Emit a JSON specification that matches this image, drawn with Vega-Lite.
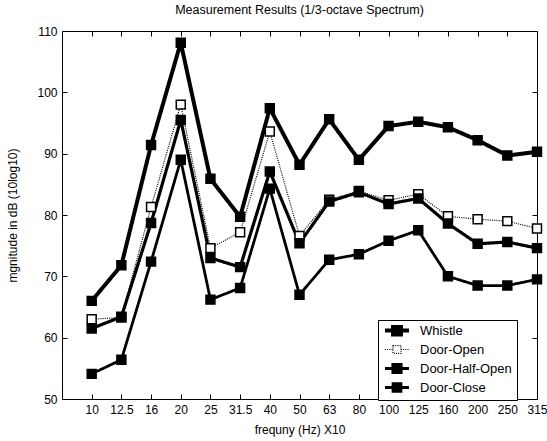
{
  "$schema": "https://vega.github.io/schema/vega-lite/v6.json",
  "width": 475,
  "height": 368,
  "autosize": {"type": "none"},
  "padding": {"left": 62, "top": 31, "right": 10, "bottom": 42},
  "background": "white",
  "config": {
    "font": "Liberation Sans",
    "view": {"stroke": "black", "strokeWidth": 1},
    "axis": {
      "grid": false,
      "domainColor": "black",
      "tickColor": "black",
      "labelColor": "black",
      "titleColor": "black",
      "labelFont": "Liberation Sans",
      "titleFont": "Liberation Sans",
      "labelFontSize": 12,
      "titleFontSize": 12,
      "titleFontWeight": "normal",
      "tickSize": -5,
      "labelPadding": 10
    },
    "legend": {
      "labelFont": "Liberation Sans",
      "labelFontSize": 13,
      "labelColor": "black"
    }
  },
  "title": {
    "text": "Measurement Results (1/3-octave Spectrum)",
    "fontSize": 12.5,
    "fontWeight": "normal",
    "font": "Liberation Sans",
    "color": "black",
    "offset": 9,
    "anchor": "middle"
  },
  "data": {
    "values": [
      {"freq": "10", "series": "Whistle", "db": 66.0},
      {"freq": "12.5", "series": "Whistle", "db": 71.8},
      {"freq": "16", "series": "Whistle", "db": 91.4},
      {"freq": "20", "series": "Whistle", "db": 108.1},
      {"freq": "25", "series": "Whistle", "db": 85.9},
      {"freq": "31.5", "series": "Whistle", "db": 79.7},
      {"freq": "40", "series": "Whistle", "db": 97.4},
      {"freq": "50", "series": "Whistle", "db": 88.2},
      {"freq": "63", "series": "Whistle", "db": 95.6},
      {"freq": "80", "series": "Whistle", "db": 89.0},
      {"freq": "100", "series": "Whistle", "db": 94.5},
      {"freq": "125", "series": "Whistle", "db": 95.2},
      {"freq": "160", "series": "Whistle", "db": 94.3},
      {"freq": "200", "series": "Whistle", "db": 92.2},
      {"freq": "250", "series": "Whistle", "db": 89.7},
      {"freq": "315", "series": "Whistle", "db": 90.3},
      {"freq": "10", "series": "Door-Open", "db": 63.0},
      {"freq": "12.5", "series": "Door-Open", "db": 63.3},
      {"freq": "16", "series": "Door-Open", "db": 81.3},
      {"freq": "20", "series": "Door-Open", "db": 98.0},
      {"freq": "25", "series": "Door-Open", "db": 74.6},
      {"freq": "31.5", "series": "Door-Open", "db": 77.2},
      {"freq": "40", "series": "Door-Open", "db": 93.6},
      {"freq": "50", "series": "Door-Open", "db": 76.6},
      {"freq": "63", "series": "Door-Open", "db": 82.5},
      {"freq": "80", "series": "Door-Open", "db": 83.9},
      {"freq": "100", "series": "Door-Open", "db": 82.4},
      {"freq": "125", "series": "Door-Open", "db": 83.4},
      {"freq": "160", "series": "Door-Open", "db": 79.8},
      {"freq": "200", "series": "Door-Open", "db": 79.3},
      {"freq": "250", "series": "Door-Open", "db": 79.0},
      {"freq": "315", "series": "Door-Open", "db": 77.8},
      {"freq": "10", "series": "Door-Half-Open", "db": 61.5},
      {"freq": "12.5", "series": "Door-Half-Open", "db": 63.4},
      {"freq": "16", "series": "Door-Half-Open", "db": 78.7},
      {"freq": "20", "series": "Door-Half-Open", "db": 95.5},
      {"freq": "25", "series": "Door-Half-Open", "db": 73.0},
      {"freq": "31.5", "series": "Door-Half-Open", "db": 71.5},
      {"freq": "40", "series": "Door-Half-Open", "db": 87.1},
      {"freq": "50", "series": "Door-Half-Open", "db": 75.4},
      {"freq": "63", "series": "Door-Half-Open", "db": 82.2},
      {"freq": "80", "series": "Door-Half-Open", "db": 83.7},
      {"freq": "100", "series": "Door-Half-Open", "db": 81.8},
      {"freq": "125", "series": "Door-Half-Open", "db": 82.7},
      {"freq": "160", "series": "Door-Half-Open", "db": 78.6},
      {"freq": "200", "series": "Door-Half-Open", "db": 75.3},
      {"freq": "250", "series": "Door-Half-Open", "db": 75.6},
      {"freq": "315", "series": "Door-Half-Open", "db": 74.6},
      {"freq": "10", "series": "Door-Close", "db": 54.1},
      {"freq": "12.5", "series": "Door-Close", "db": 56.4},
      {"freq": "16", "series": "Door-Close", "db": 72.4},
      {"freq": "20", "series": "Door-Close", "db": 89.0},
      {"freq": "25", "series": "Door-Close", "db": 66.2},
      {"freq": "31.5", "series": "Door-Close", "db": 68.1},
      {"freq": "40", "series": "Door-Close", "db": 84.3},
      {"freq": "50", "series": "Door-Close", "db": 67.0},
      {"freq": "63", "series": "Door-Close", "db": 72.7},
      {"freq": "80", "series": "Door-Close", "db": 73.6},
      {"freq": "100", "series": "Door-Close", "db": 75.8},
      {"freq": "125", "series": "Door-Close", "db": 77.5},
      {"freq": "160", "series": "Door-Close", "db": 70.0},
      {"freq": "200", "series": "Door-Close", "db": 68.5},
      {"freq": "250", "series": "Door-Close", "db": 68.5},
      {"freq": "315", "series": "Door-Close", "db": 69.5}
    ]
  },
  "resolve": {"axis": {"x": "independent", "y": "independent"}},
  "layer": [
    {
      "mark": {"type": "line", "strokeJoin": "miter"},
      "encoding": {
        "x": {
          "field": "freq", "type": "ordinal",
          "sort": ["10","12.5","16","20","25","31.5","40","50","63","80","100","125","160","200","250","315"],
          "scale": {"type": "point", "padding": 0.5, "align": 1},
          "axis": {"orient": "bottom", "title": "frequny (Hz) X10", "labelAngle": 0, "titlePadding": 9, "domain": false}
        },
        "y": {
          "field": "db", "type": "quantitative",
          "scale": {"domain": [50, 110], "nice": false, "zero": false},
          "axis": {"orient": "left", "title": "mgnitude in dB (10log10)", "values": [50,60,70,80,90,100,110], "titlePadding": 17, "labelPadding": 10, "domain": false}
        },
        "color": {"value": "black"},
        "strokeDash": {
          "field": "series", "type": "nominal",
          "scale": {"domain": ["Whistle","Door-Open","Door-Half-Open","Door-Close"], "range": [[1,0],[1,1.2],[1,0],[1,0]]},
          "legend": {
            "title": null, "orient": "none", "legendX": 316, "legendY": 289,
            "symbolType": "M-1,0H-0.33M0.33,0H1M-0.33,-0.33H0.33V0.33H-0.33Z",
            "symbolSize": 576, "symbolStrokeColor": "black", "symbolStrokeWidth": 2,
            "clipHeight": 11, "labelOffset": 9,
            "strokeColor": "black", "fillColor": "white", "padding": 5, "rowPadding": 5
          }
        },
        "strokeWidth": {
          "field": "series", "type": "nominal",
          "scale": {"type": "ordinal", "domain": ["Whistle","Door-Open","Door-Half-Open","Door-Close"], "range": [4, 1.2, 3.2, 2.8]},
          "legend": null
        },
        "detail": {"field": "series"}
      }
    },
    {
      "mark": {"type": "point", "shape": "square", "filled": true, "size": 80, "stroke": "black", "strokeWidth": 1.5, "opacity": 1},
      "encoding": {
        "x": {
          "field": "freq", "type": "ordinal",
          "sort": ["10","12.5","16","20","25","31.5","40","50","63","80","100","125","160","200","250","315"],
          "axis": {"orient": "top", "title": null, "labels": false, "domain": false}
        },
        "y": {
          "field": "db", "type": "quantitative",
          "axis": {"orient": "right", "title": null, "labels": false, "values": [50,60,70,80,90,100,110], "domain": false}
        },
        "fill": {
          "field": "series", "type": "nominal",
          "scale": {"domain": ["Whistle","Door-Open","Door-Half-Open","Door-Close"], "range": ["black","white","black","black"]},
          "legend": {
            "title": null, "orient": "none", "legendX": 316, "legendY": 289,
            "symbolType": "M-1,0H-0.33M0.33,0H1M-0.33,-0.33H0.33V0.33H-0.33Z",
            "symbolSize": 576, "symbolStrokeColor": "black", "symbolStrokeWidth": 2,
            "clipHeight": 11, "labelOffset": 9,
            "strokeColor": "black", "fillColor": "white", "padding": 5, "rowPadding": 5
          }
        }
      }
    }
  ]
}
